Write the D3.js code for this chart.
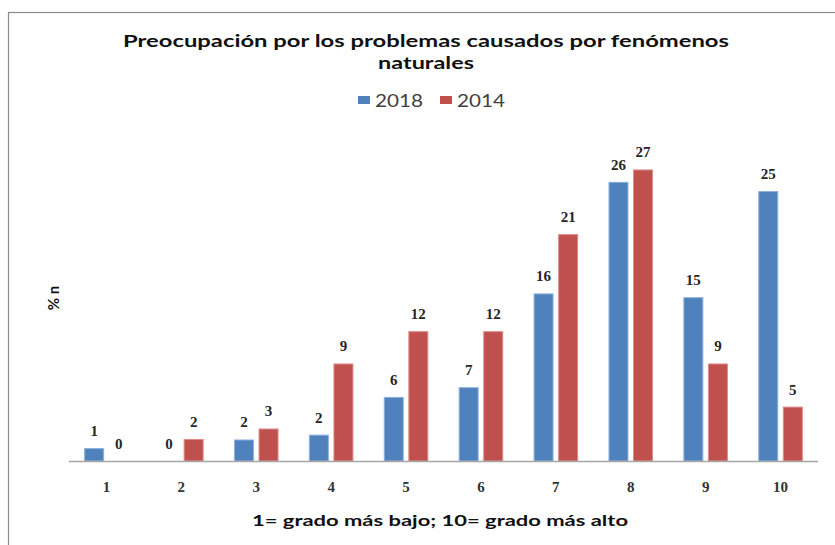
<!DOCTYPE html>
<html><head><meta charset="utf-8">
<script src="https://cdn.jsdelivr.net/npm/d3@7"></script>
<style>html,body{margin:0;padding:0;background:#fff;}svg{display:block;}</style>
</head><body>
<svg id="chart" width="835" height="545"></svg>
<script>
const categories = ["1","2","3","4","5","6","7","8","9","10"];
const seriesNames = ["2018","2014"];
const values2018 = [1.15, 0, 1.95, 2.4, 5.9, 6.8, 15.5, 25.85, 15.15, 25];
const values2014 = [0, 2.0, 2.97, 9, 12, 12, 21, 27, 9, 5];
const labels2018 = ["1","0","2","2","6","7","16","26","15","25"];
const labels2014 = ["0","2","3","9","12","12","21","27","9","5"];
const colors = ["#4F81BD", "#C0504D"];
const strokeColors = ["#8DB0DC", "#DE8C89"];

const svg = d3.select("#chart");
// frame
svg.append("rect").attr("x", 8.5).attr("y", 12.5).attr("width", 900).attr("height", 600)
  .attr("fill", "none").attr("stroke", "#8c8c8c").attr("stroke-width", 1.2);

const x0 = d3.scaleBand().domain(categories).range([69, 818]).paddingInner(0.405).paddingOuter(0.2025);
const x1 = d3.scaleBand().domain(seriesNames).range([0, x0.bandwidth()]).paddingInner(0.187);
const y = d3.scaleLinear().domain([0, 30]).range([461, 461 - 30 * 10.78]);

const data = categories.map((c, i) => ({
  cat: c,
  vals: [
    {s: "2018", v: values2018[i], lab: labels2018[i], k: 0},
    {s: "2014", v: values2014[i], lab: labels2014[i], k: 1}
  ]
}));

const g = svg.append("g");
const groups = g.selectAll("g.cat").data(data).join("g")
  .attr("transform", d => `translate(${x0(d.cat)},0)`);

groups.selectAll("rect").data(d => d.vals).join("rect")
  .attr("x", d => x1(d.s) + 0.5)
  .attr("width", x1.bandwidth() - 1)
  .attr("y", d => y(d.v))
  .attr("height", d => Math.max(0, y(0) - y(d.v)))
  .attr("fill", d => colors[d.k])
  .attr("stroke", d => d.v > 0 ? strokeColors[d.k] : "none")
  .attr("stroke-width", 1);

groups.selectAll("text.lab").data(d => d.vals).join("text")
  .attr("class", "lab")
  .attr("x", d => x1(d.s) + x1.bandwidth() / 2)
  .attr("y", d => y(d.v) - 12.5)
  .attr("text-anchor", "middle")
  .attr("font-family", "'Liberation Serif', serif")
  .attr("font-weight", "bold")
  .attr("font-size", 15)
  .attr("fill", "#262626")
  .text(d => d.lab);

// x axis
const xAxis = d3.axisBottom(x0).tickSize(0).tickPadding(0);
const ax = svg.append("g").attr("transform", "translate(0,461)").call(xAxis);
ax.select(".domain").attr("d", "M69,0.5H818").attr("stroke", "#a6a6a6").attr("stroke-width", 1.5);
ax.selectAll(".tick text")
  .attr("y", 31).attr("dy", null)
  .attr("font-family", "'Liberation Serif', serif")
  .attr("font-weight", "bold")
  .attr("font-size", 15)
  .attr("fill", "#333");

// titles
const sans = "Lato, 'Open Sans', sans-serif";
svg.append("text").attr("x", 426).attr("y", 47).attr("text-anchor", "middle")
  .attr("font-family", sans).attr("font-weight", "bold").attr("font-size", 17).attr("fill", "#111")
  .attr("textLength", 606).attr("lengthAdjust", "spacingAndGlyphs")
  .text("Preocupación por los problemas causados por fenómenos");
svg.append("text").attr("x", 426).attr("y", 69).attr("text-anchor", "middle")
  .attr("font-family", sans).attr("font-weight", "bold").attr("font-size", 17).attr("fill", "#111")
  .attr("textLength", 96).attr("lengthAdjust", "spacingAndGlyphs")
  .text("naturales");

// legend
const legX = [358, 440];
const legTX = [375, 457];
seriesNames.forEach((s, i) => {
  svg.append("rect").attr("x", legX[i]).attr("y", 96).attr("width", 12).attr("height", 8)
    .attr("fill", colors[i]);
  svg.append("text").attr("x", legTX[i]).attr("y", 107)
    .attr("font-family", sans).attr("font-size", 17).attr("fill", "#404040")
    .attr("textLength", 48).attr("lengthAdjust", "spacingAndGlyphs")
    .text(s);
});

// axis titles
svg.append("text").attr("x", 440).attr("y", 526).attr("text-anchor", "middle")
  .attr("font-family", sans).attr("font-weight", "bold").attr("font-size", 16).attr("fill", "#111")
  .attr("textLength", 376).attr("lengthAdjust", "spacingAndGlyphs")
  .text("1= grado más bajo; 10= grado más alto");
svg.append("text").attr("transform", "translate(59,298) rotate(-90)").attr("text-anchor", "middle")
  .attr("font-family", sans).attr("font-weight", "bold").attr("font-size", 15).attr("fill", "#111")
  .text("% n");
</script>
</body></html>
